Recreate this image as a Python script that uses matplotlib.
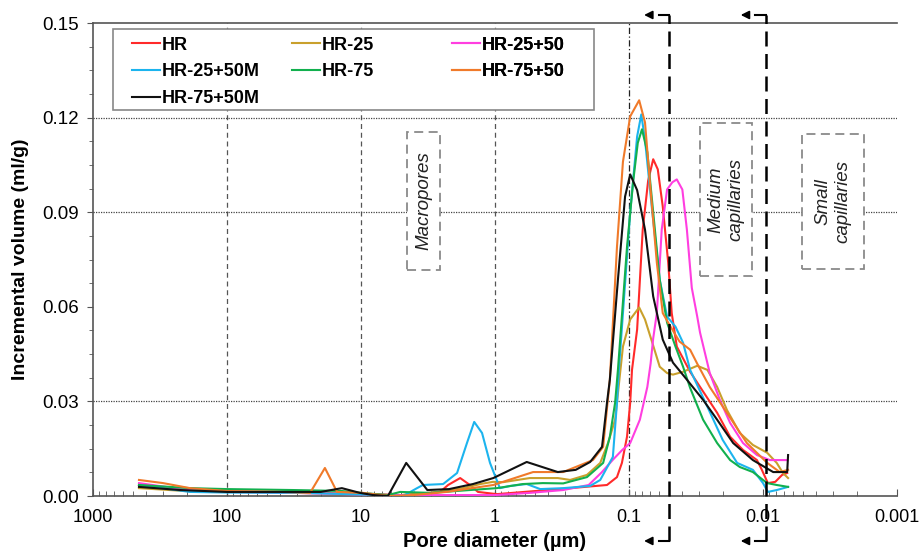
import matplotlib
matplotlib.use("Agg")
import matplotlib.pyplot as plt
import matplotlib.transforms as mtransforms
from matplotlib.patches import Rectangle
from matplotlib.ticker import FixedLocator, FixedFormatter, LogLocator, NullFormatter, AutoMinorLocator

plt.rcParams['font.family'] = ['Liberation Sans', 'DejaVu Sans']

# pore diameter (um) / incremental volume (ml/g)
hr_d = [454, 189, 100, 32, 10, 5, 2.57, 2.24, 1.82, 1.54, 1.34, 0.97, 0.33, 0.146, 0.123, 0.113,
        0.1035, 0.098, 0.095, 0.087, 0.079, 0.072, 0.066, 0.061, 0.056, 0.051, 0.048, 0.044, 0.035,
        0.0295, 0.022, 0.0176, 0.0141, 0.0111, 0.0102, 0.0092, 0.0081, 0.0072, 0.0066]
hr_v = [0.0035, 0.0016, 0.0013, 0.0013, 0.0006, 0.0003, 0.0013, 0.0035, 0.0057, 0.0035, 0.0013,
        0.0006, 0.0022, 0.0035, 0.0060, 0.0105, 0.0188, 0.0296, 0.040, 0.0528, 0.0845, 0.100,
        0.1068, 0.1036, 0.0918, 0.074, 0.058, 0.0474, 0.0394, 0.0346, 0.0264, 0.0188, 0.0146,
        0.0114, 0.0083, 0.0041, 0.0045, 0.0067, 0.0073]

hr25_d = [454, 189, 100, 32, 10, 5, 3.0, 1.73, 1.29, 1.035, 0.87, 0.55, 0.34, 0.275, 0.206, 0.164,
          0.1435, 0.127, 0.111, 0.098, 0.084, 0.076, 0.067, 0.059, 0.052, 0.047, 0.0395, 0.031,
          0.026, 0.022, 0.0186, 0.0149, 0.0119, 0.0093, 0.0079, 0.0071, 0.0065]
hr25_v = [0.0025, 0.0015, 0.0013, 0.0010, 0.0006, 0.0003, 0.0010, 0.0025, 0.0038, 0.0045, 0.0044,
          0.0057, 0.0057, 0.0051, 0.0067, 0.0105, 0.0168, 0.0242, 0.0474, 0.056, 0.0598, 0.056,
          0.0486, 0.041, 0.039, 0.0385, 0.0394, 0.0413, 0.040, 0.0346, 0.0273, 0.020, 0.0162,
          0.0137, 0.0105, 0.0073, 0.0057]

hr25_50_d = [454, 189, 100, 32, 10, 5, 2, 1, 0.55, 0.31, 0.2, 0.16, 0.132, 0.113, 0.098, 0.083,
             0.073, 0.069, 0.066, 0.062, 0.057, 0.052, 0.0475, 0.044, 0.040, 0.037, 0.034, 0.031,
             0.0295, 0.025, 0.021, 0.0176, 0.0141, 0.0111, 0.0089, 0.0066]
hr25_50_v = [0.0041, 0.0018, 0.0013, 0.0010, 0.0005, 0.0003, 0.0003, 0.0003, 0.0010, 0.0019,
             0.0035, 0.0075, 0.0115, 0.0145, 0.0168, 0.0242, 0.0346, 0.042, 0.050, 0.058, 0.0845,
             0.0972, 0.0995, 0.1004, 0.0972, 0.0845, 0.066, 0.057, 0.0518, 0.0391, 0.0305, 0.0232,
             0.0168, 0.013, 0.0114, 0.0114]

hr25_50m_d = [454, 189, 100, 28.5, 10.2, 7.2, 4.86, 3.82, 3.45, 2.44, 1.92, 1.62, 1.43, 1.25, 1.09,
              0.92, 0.77, 0.58, 0.46, 0.31, 0.195, 0.164, 0.132, 0.123, 0.119, 0.111, 0.098, 0.087,
              0.081, 0.076, 0.067, 0.059, 0.052, 0.045, 0.0395, 0.035, 0.026, 0.020, 0.0156,
              0.0119, 0.0100, 0.0092, 0.0079, 0.0065]
hr25_50m_v = [0.0035, 0.0013, 0.0011, 0.0010, 0.0005, 0.0003, 0.0000, 0.0025, 0.0035, 0.0038,
              0.0073, 0.0168, 0.0235, 0.0200, 0.0105, 0.0025, 0.0032, 0.0038, 0.0022, 0.0025,
              0.0032, 0.0051, 0.0124, 0.0296, 0.040, 0.058, 0.090, 0.114, 0.121, 0.113, 0.090,
              0.0686, 0.0569, 0.0537, 0.0486, 0.040, 0.0283, 0.0178, 0.0105, 0.0083, 0.0041,
              0.0013, 0.0019, 0.0029]

hr75_d = [454, 189, 100, 32, 14, 10, 6.3, 5.1, 3.05, 1.54, 0.97, 0.62, 0.44, 0.31, 0.206, 0.156,
          0.139, 0.127, 0.121, 0.1035, 0.093, 0.086, 0.080, 0.073, 0.066, 0.059, 0.052, 0.045,
          0.0395, 0.035, 0.028, 0.022, 0.0176, 0.0149, 0.0119, 0.0100, 0.0093, 0.0079, 0.0065]
hr75_v = [0.0035, 0.0025, 0.0022, 0.0019, 0.0016, 0.0010, 0.0003, 0.0013, 0.0010, 0.0019, 0.0025,
          0.0038, 0.0041, 0.0040, 0.0060, 0.0105, 0.0188, 0.0296, 0.040, 0.079, 0.100, 0.112,
          0.1163, 0.109, 0.090, 0.0686, 0.055, 0.0474, 0.041, 0.0343, 0.0242, 0.0168, 0.0114,
          0.0092, 0.0076, 0.0051, 0.0041, 0.0035, 0.0029]

hr75_50_d = [454, 300, 189, 100, 40, 24, 18.6, 15.1, 9.7, 6.1, 4.1, 2.3, 1.03, 0.52, 0.31, 0.186,
             0.156, 0.139, 0.123, 0.111, 0.098, 0.084, 0.076, 0.070, 0.062, 0.056, 0.049, 0.042,
             0.035, 0.031, 0.025, 0.0186, 0.0132, 0.0093, 0.0075, 0.0065]
hr75_50_v = [0.0051, 0.0041, 0.0025, 0.0016, 0.0013, 0.0010, 0.0089, 0.0013, 0.0010, 0.0000,
             0.0003, 0.0013, 0.0035, 0.0076, 0.0076, 0.0114, 0.0156, 0.0369, 0.079, 0.106, 0.1204,
             0.1255, 0.1185, 0.100, 0.074, 0.058, 0.0537, 0.049, 0.0464, 0.042, 0.0346, 0.0264,
             0.0168, 0.0105, 0.0076, 0.0083]

hr75_50m_d = [454, 224, 100, 32, 20, 13.9, 10.2, 8.1, 6.3, 4.6, 3.2, 2.2, 1.46, 1.03, 0.58, 0.34,
              0.25, 0.195, 0.159, 0.146, 0.139, 0.121, 0.107, 0.098, 0.087, 0.076, 0.066, 0.056,
              0.047, 0.037, 0.028, 0.022, 0.0167, 0.0119, 0.0084, 0.0066, 0.0065]
hr75_50m_v = [0.0029, 0.0019, 0.0013, 0.0013, 0.0013, 0.0025, 0.0010, 0.0003, 0.0000, 0.0105,
              0.0019, 0.0022, 0.0038, 0.0057, 0.0108, 0.0076, 0.0083, 0.0108, 0.0156, 0.0296,
              0.0369, 0.0686, 0.095, 0.102, 0.097, 0.0845, 0.0633, 0.0496, 0.0423, 0.0369, 0.0305,
              0.0242, 0.0168, 0.0114, 0.0076, 0.0076, 0.013]

labels = ["HR", "HR-25", "HR-25+50", "HR-25+50M", "HR-75", "HR-75+50", "HR-75+50M"]
colors = ["#ff2a2a", "#c9a02c", "#ff3ee0", "#1cb4ee", "#12b04e", "#f07a2a", "#111111"]
xs = [hr_d, hr25_d, hr25_50_d, hr25_50m_d, hr75_d, hr75_50_d, hr75_50m_d]
ys = [hr_v, hr25_v, hr25_50_v, hr25_50m_v, hr75_v, hr75_50_v, hr75_50m_v]

decades = [1000, 100, 10, 1, 0.1, 0.01, 0.001]
decade_labels = ["1000", "100", "10", "1", "0.1", "0.01", "0.001"]
y_ticks = [0.0, 0.03, 0.06, 0.09, 0.12, 0.15]
pore_bounds = [0.05, 0.0095]

fig = plt.figure(figsize=(9.22, 5.52), dpi=100)
ax = fig.add_axes([0.1009, 0.1014, 0.8720, 0.8569])

handles = []
for d, v, c, lab in zip(xs, ys, colors, labels):
    h, = ax.plot(d, v, color=c, lw=1.5, label=lab, zorder=3)
    handles.append(h)

ax.set_xscale("log")
ax.set_xlim(1000, 0.001)
ax.set_ylim(0, 0.15)

ax.xaxis.set_major_locator(FixedLocator(decades))
ax.xaxis.set_major_formatter(FixedFormatter(decade_labels))
ax.xaxis.set_minor_locator(LogLocator(base=10, subs=range(2, 10), numticks=20))
ax.xaxis.set_minor_formatter(NullFormatter())
ax.set_yticks(y_ticks)
ax.set_yticklabels([f"{t:.2f}" for t in y_ticks])
ax.yaxis.set_minor_locator(AutoMinorLocator(4))

ax.tick_params(axis="x", which="both", direction="in", labelsize=13, pad=9, color="#555555")
ax.tick_params(axis="x", which="major", length=5)
ax.tick_params(axis="x", which="minor", length=3.5)
ax.tick_params(axis="y", which="both", direction="out", labelsize=13.5, pad=6, color="#555555")
ax.tick_params(axis="y", which="major", length=4)
ax.tick_params(axis="y", which="minor", length=3)

for s in ["left", "bottom", "top"]:
    ax.spines[s].set_color("#555555")
    ax.spines[s].set_linewidth(1.2)
ax.spines["right"].set_visible(False)

# grid
for d in decades[1:4]:
    ax.axvline(d, color="#555555", lw=0.9, ls=(0, (4, 3)), zorder=1)
ax.axvline(0.1, color="#222222", lw=0.9, ls=(0, (5, 2, 1, 2)), zorder=1)
for y in [0.03, 0.09, 0.12]:
    ax.axhline(y, color="#444444", lw=0.9, ls=(0, (1, 1)), zorder=1)

# pore class boundaries with arrows above and below the axes
trans = mtransforms.blended_transform_factory(ax.transData, ax.transAxes)
for b in pore_bounds:
    ax.plot([b, b], [-0.095, 1.017], transform=trans, clip_on=False, color="black",
            lw=1.8, ls=(0, (6, 3)), zorder=4)
    for yy in [1.017, -0.095]:
        ax.plot([b, b * 1.2], [yy, yy], transform=trans, clip_on=False, color="black", lw=1.5)
        ax.annotate("", xy=(b * 1.62, yy), xytext=(b * 1.3, yy), xycoords=trans,
                    textcoords=trans, annotation_clip=False,
                    arrowprops=dict(arrowstyle="-|>", color="black", lw=1.3, mutation_scale=12))

# region boxes
boxes = [((0.3905, 0.4778), 0.0411, 0.2918, "Macropores"),
         ((0.755, 0.4651), 0.0647, 0.3235, "Medium\ncapillaries"),
         ((0.8818, 0.4799), 0.0772, 0.2854, "Small\ncapillaries")]
for (x0, y0), w, h, txt in boxes:
    ax.add_patch(Rectangle((x0, y0), w, h, transform=ax.transAxes, fill=True, fc="white",
                           ec="#8a8a8a", lw=1.3, ls=(0, (5, 3)), zorder=2))
    ax.text(x0 + w / 2, y0 + h / 2, txt, transform=ax.transAxes, rotation=90, style="italic",
            fontsize=13.5, ha="center", va="center", color="#222222", zorder=2,
            multialignment="center", linespacing=1.2)

# legend: three fixed-width columns inside one frame
ax.add_patch(Rectangle((0.0249, 0.816), 0.5981, 0.1713, transform=ax.transAxes, fc="white",
                       ec="#888888", lw=1.2, zorder=5))
columns = [[0, 3, 6], [1, 4], [2, 5]]
col_x = [0.0485, 0.2475, 0.4465]
for cols, cx in zip(columns, col_x):
    leg = ax.legend([handles[i] for i in cols], [labels[i] for i in cols], loc="upper left",
                    bbox_to_anchor=(cx, 0.971), frameon=False, handlelength=1.55,
                    handletextpad=0.1, borderpad=0, borderaxespad=0,
                    prop={"weight": "bold", "size": 13}, labelspacing=0.54)
    leg.set_zorder(6)
    ax.add_artist(leg)

ax.set_xlabel("Pore diameter (µm)", fontsize=14.5, fontweight="bold")
ax.set_ylabel("Incremental volume (ml/g)", fontsize=14, fontweight="bold")
ax.xaxis.set_label_coords(0.5, -0.076)
ax.yaxis.set_label_coords(-0.08, 0.5)

fig.savefig("out.png", dpi=100)
